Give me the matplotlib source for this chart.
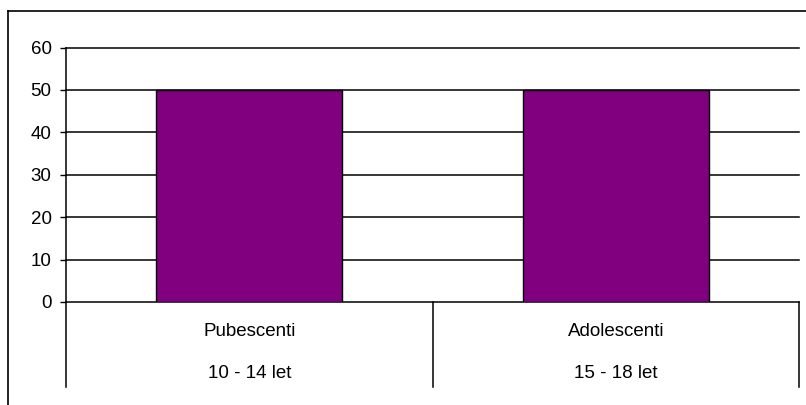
import matplotlib
matplotlib.use("Agg")
import matplotlib.pyplot as plt
from matplotlib.transforms import blended_transform_factory
from matplotlib.lines import Line2D

groups = ["Pubescenti", "Adolescenti"]
ages = ["10 - 14 let", "15 - 18 let"]
values = [50, 50]
yticks = [0, 10, 20, 30, 40, 50, 60]

plt.rcParams["font.family"] = ["Liberation Sans", "DejaVu Sans"]
FS = 13.5

fig = plt.figure(figsize=(8.06, 4.05), dpi=100)
ax = fig.add_axes([66 / 806, 1 - 302 / 405, (799 - 66) / 806, (302 - 47.5) / 405])

x = list(range(len(groups)))
ax.bar(x, values, width=0.507, color="#800080", edgecolor="black", linewidth=1, zorder=3)

ax.set_xlim(-0.5, len(groups) - 0.5)
ax.set_ylim(0, 60)
ax.set_yticks(yticks)
ax.set_yticklabels([str(t) for t in yticks], fontsize=FS)
ax.yaxis.grid(True, color="black", linewidth=1.1)
for gl in ax.get_ygridlines():
    gl.set_clip_on(False)
ax.set_axisbelow(True)
ax.tick_params(axis="y", length=4.3, width=1, color="black", pad=6)
ax.set_xticks([])
for side in ("top", "right", "bottom"):
    ax.spines[side].set_visible(False)
ax.spines["left"].set_linewidth(1.1)

# two-level category axis below the plot
tr = blended_transform_factory(ax.transData, fig.transFigure)
y_top = 1 - 302 / 405
y_bot = 1 - 387 / 405
for b in [i - 0.5 for i in range(len(groups) + 1)]:
    fig.add_artist(Line2D([b, b], [y_top, y_bot], transform=tr, color="black", linewidth=1.1))
for i, (g, a) in enumerate(zip(groups, ages)):
    ax.text(i, 1 - 331 / 405, g, transform=tr, ha="center", va="center", fontsize=FS)
    ax.text(i, 1 - 374 / 405, a, transform=tr, ha="center", va="center", fontsize=FS)

# chart-area frame edges
fig.add_artist(Line2D([8 / 806, 8 / 806], [0, 1 - 11 / 405], transform=fig.transFigure, color="black", linewidth=1.2))
fig.add_artist(Line2D([8 / 806, 1], [1 - 11 / 405, 1 - 11 / 405], transform=fig.transFigure, color="black", linewidth=1.2))

fig.savefig("out.png", dpi=100)
